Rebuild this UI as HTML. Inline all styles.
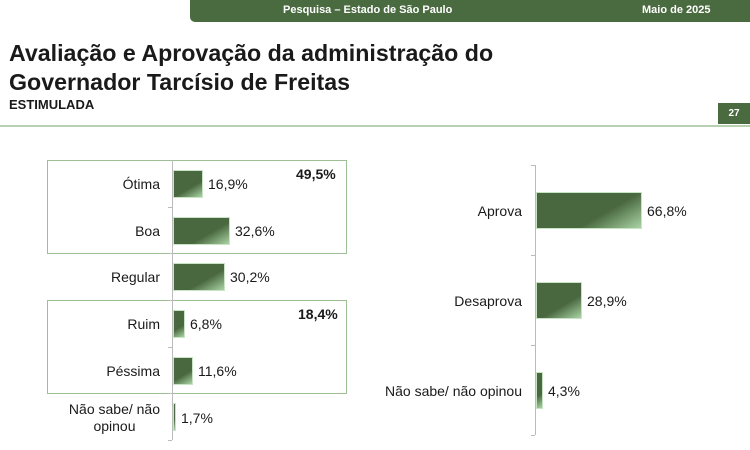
<!DOCTYPE html>
<html><head><meta charset="utf-8"><style>
body{margin:0;width:750px;height:450px;background:#fff;position:relative;overflow:hidden;font-family:"Liberation Sans",sans-serif;color:#1a1a1a}
.a{position:absolute}
.bar{position:absolute;background:linear-gradient(150deg,#4a6840 0%,#4a6840 62%,#a9d4a4 100%);border:1px solid #c9e3c5;box-sizing:border-box}
.lab{position:absolute;font-size:14px;text-align:right}
.val{position:absolute;font-size:14px}
.tick{position:absolute;height:1px;width:4px;background:#bbb}
</style></head><body>
<div class="a" style="left:190px;top:0;width:560px;height:22px;background:#4a6a40;border-bottom-left-radius:5px"></div>
<div class="a" style="left:283px;top:4px;font-size:11px;font-weight:bold;color:#fff">Pesquisa – Estado de São Paulo</div>
<div class="a" style="left:642px;top:4px;font-size:11px;font-weight:bold;color:#fff">Maio de 2025</div>
<div class="a" style="left:9px;top:39px;font-size:23.2px;font-weight:bold;line-height:29px">Avaliação e Aprovação da administração do<br>Governador Tarcísio de Freitas</div>
<div class="a" style="left:9px;top:97px;font-size:13px;font-weight:bold">ESTIMULADA</div>
<div class="a" style="left:718px;top:103px;width:32px;height:21px;background:#4a6a40;color:#fff;font-size:10px;font-weight:bold;text-align:center;line-height:21px">27</div>
<div class="a" style="left:0;top:125px;width:750px;height:2px;background:#b9cfb1"></div>

<div class="a" style="left:47px;top:160px;width:298px;height:92px;border:1px solid #9cbf93"></div>
<div class="a" style="left:47px;top:300px;width:298px;height:92px;border:1px solid #9cbf93"></div>
<div class="a" style="left:172px;top:160px;width:1px;height:280px;background:#bbb"></div>
<div class="tick" style="left:168px;top:207px"></div><div class="tick" style="left:168px;top:253px"></div><div class="tick" style="left:168px;top:300px"></div><div class="tick" style="left:168px;top:347px"></div><div class="tick" style="left:168px;top:393px"></div><div class="tick" style="left:168px;top:440px"></div>
<div class="a" style="left:296px;top:166px;font-size:14px;font-weight:bold">49,5%</div>
<div class="a" style="left:298px;top:306px;font-size:14px;font-weight:bold">18,4%</div>

<div class="lab" style="right:590px;top:176px">Ótima</div>
<div class="bar" style="left:173px;top:170px;width:30px;height:28px"></div><div class="val" style="left:208px;top:176px">16,9%</div>
<div class="lab" style="right:590px;top:223px">Boa</div>
<div class="bar" style="left:173px;top:217px;width:57px;height:28px"></div><div class="val" style="left:235px;top:223px">32,6%</div>
<div class="lab" style="right:590px;top:269px">Regular</div>
<div class="bar" style="left:173px;top:263px;width:52px;height:28px"></div><div class="val" style="left:230px;top:269px">30,2%</div>
<div class="lab" style="right:590px;top:316px">Ruim</div>
<div class="bar" style="left:173px;top:310px;width:12px;height:28px"></div><div class="val" style="left:190px;top:316px">6,8%</div>
<div class="lab" style="right:590px;top:363px">Péssima</div>
<div class="bar" style="left:173px;top:357px;width:20px;height:28px"></div><div class="val" style="left:198px;top:363px">11,6%</div>
<div class="lab" style="right:590px;top:401px;line-height:17px;text-align:center">Não sabe/ não<br>opinou</div>
<div class="bar" style="left:173px;top:403px;width:3px;height:28px"></div><div class="val" style="left:181px;top:410px">1,7%</div>

<div class="a" style="left:535px;top:165px;width:1px;height:270px;background:#bbb"></div>
<div class="tick" style="left:531px;top:165px"></div><div class="tick" style="left:531px;top:255px"></div><div class="tick" style="left:531px;top:345px"></div><div class="tick" style="left:531px;top:435px"></div>
<div class="lab" style="right:228px;top:203px">Aprova</div>
<div class="bar" style="left:536px;top:192px;width:106px;height:37px"></div><div class="val" style="left:647px;top:203px">66,8%</div>
<div class="lab" style="right:228px;top:293px">Desaprova</div>
<div class="bar" style="left:536px;top:282px;width:46px;height:37px"></div><div class="val" style="left:587px;top:293px">28,9%</div>
<div class="lab" style="right:228px;top:383px">Não sabe/ não opinou</div>
<div class="bar" style="left:536px;top:372px;width:7px;height:37px"></div><div class="val" style="left:548px;top:383px">4,3%</div>
</body></html>
